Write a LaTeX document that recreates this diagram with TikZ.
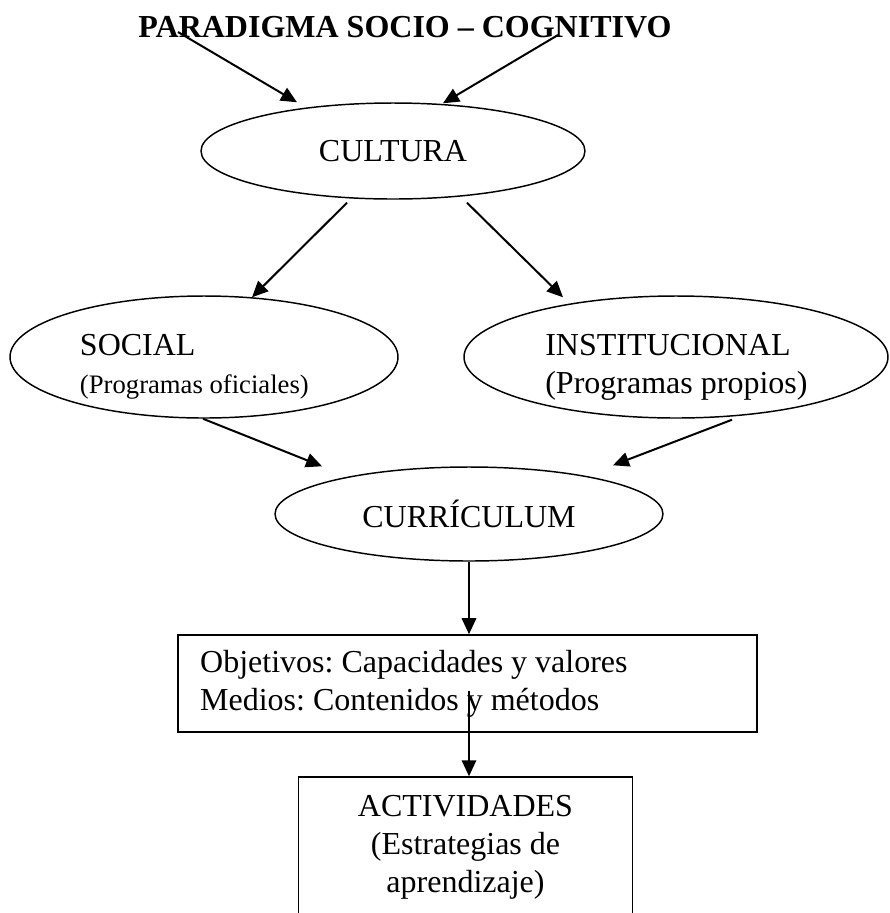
\documentclass[tikz,border=0pt]{standalone}
\usepackage{fontspec}
\setmainfont{Liberation Serif}
\usetikzlibrary{arrows.meta,calc,shapes.geometric}

\begin{document}
\frenchspacing
\begin{tikzpicture}[x=0.375pt, y=-0.375pt]
    \tikzset{oval/.style={draw, ellipse, line width=0.55pt, inner sep=0pt, font=\fontsize{12}{14.25}\selectfont},
             caja/.style={draw, rectangle, line width=0.55pt, inner sep=0pt, font=\fontsize{12}{14.25}\selectfont},
             flecha/.style={-{Triangle[length=6pt, width=5.4pt]}, line width=0.75pt}}
    \useasboundingbox (0,0) rectangle (890,913);
    \node[font=\fontsize{12}{14}\selectfont\bfseries] (titulo) at (405,27) {PARADIGMA SOCIO -- COGNITIVO};
    \node[oval, minimum width=144pt, minimum height=36pt] (cultura) at (393,151) {CULTURA};
    \node[oval, minimum width=145.5pt, minimum height=45.75pt, text width=93pt, align=flush left] (social) at (204,357)
        {\rule{0pt}{15.5pt}\mbox{SOCIAL}\\{\fontsize{10}{12}\selectfont\mbox{(Programas oficiales)}}};
    \node[oval, minimum width=159pt, minimum height=45.75pt, text width=98pt, align=flush left] (institucional) at (676,357)
        {\rule{0pt}{15.5pt}\mbox{INSTITUCIONAL}\\\mbox{(Programas propios)}};
    \node[oval, minimum width=145.5pt, minimum height=35.25pt] (curriculum) at (469,514) {CURRÍCULUM};
    \node[caja, minimum width=217pt, minimum height=36.4pt, text width=200.5pt, align=flush left] (objetivos) at (467.5,683.5)
        {Objetivos: Capacidades y valores\\Medios: Contenidos y métodos};
    \node[caja, minimum width=125.25pt, minimum height=52.5pt, align=center] (actividades) at (465.5,847)
        {ACTIVIDADES\\(Estrategias de\\aprendizaje)};
    \draw[flecha] ($(titulo.center)+(-227,5)$) -- ($(cultura.north)+(-96,0)$);
    \draw[flecha] ($(titulo.center)+(153,8)$) -- ($(cultura.north)+(50,1)$);
    \draw[flecha] ($(cultura.south)+(-46,3)$) -- ($(social.north)+(48,2)$);
    \draw[flecha] ($(cultura.south)+(74,3)$) -- ($(institucional.north)+(-113,2)$);
    \draw[flecha] ($(social.south)+(-1,0)$) -- ($(curriculum.north)+(-147,0)$);
    \draw[flecha] ($(institucional.south)+(56,1)$) -- ($(curriculum.north)+(144,-1)$);
    \draw[flecha] (curriculum.south) -- (curriculum.south |- objetivos.north);
    \draw[flecha] ($(objetivos.center)+(1.5,7)$) -- ($(actividades.north)+(3.5,0)$);
\end{tikzpicture}
\end{document}
